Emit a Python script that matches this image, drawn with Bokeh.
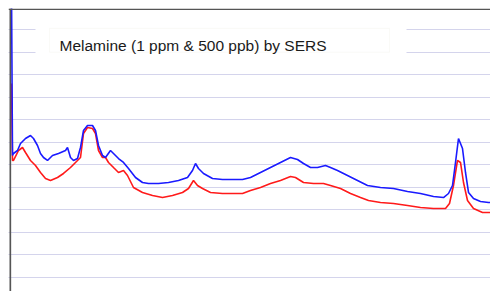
from bokeh.plotting import figure
from bokeh.models import Range1d, Grid, FixedTicker, BoxAnnotation, Label
from bokeh.embed import file_html
from bokeh.resources import INLINE

# Raman shift (cm^-1) and intensity (counts) for melamine 1 ppm (blue)
shift_1ppm = [306, 309, 312, 324, 333, 348, 363, 372, 384, 393, 402, 414, 429, 447, 468, 474,
              483, 492, 504, 513, 522, 534, 549, 558, 567, 579, 588, 603, 612, 627, 642, 657,
              678, 699, 717, 747, 777, 807, 834, 849, 858, 867, 882, 909, 939, 969, 999, 1023,
              1053, 1083, 1113, 1143, 1164, 1182, 1203, 1224, 1248, 1263, 1284, 1314, 1344, 1374,
              1413, 1452, 1494, 1533, 1572, 1602, 1617, 1629, 1638, 1647, 1659, 1668, 1677, 1692,
              1713, 1737, 1743]
int_1ppm = [12800, 5411, 5500, 5633, 5944, 6167, 6300, 6167, 5855, 5500, 5322, 5189, 5411, 5500,
            5633, 5766, 5322, 5189, 5277, 5766, 6522, 6745, 6745, 6522, 5855, 5411, 5322, 5633,
            5500, 5277, 5100, 4833, 4433, 4210, 4166, 4166, 4210, 4299, 4433, 4744, 5055, 4833,
            4611, 4388, 4344, 4344, 4344, 4433, 4655, 4877, 5100, 5322, 5233, 5055, 4877, 4877,
            4966, 4877, 4744, 4522, 4299, 4077, 3988, 3944, 3810, 3721, 3588, 3543, 3721, 4077,
            5100, 6167, 5722, 4655, 3766, 3499, 3366, 3321, 3321]

# Melamine 500 ppb (red)
shift_500ppb = [306, 309, 312, 327, 339, 348, 363, 378, 393, 408, 423, 444, 462, 483, 498, 513,
                522, 534, 549, 558, 567, 579, 588, 597, 612, 627, 642, 654, 672, 699, 729, 759,
                789, 819, 837, 852, 864, 879, 903, 939, 969, 999, 1023, 1053, 1083, 1113, 1143,
                1158, 1182, 1212, 1242, 1263, 1293, 1323, 1353, 1377, 1413, 1452, 1494, 1533,
                1572, 1608, 1620, 1632, 1644, 1653, 1662, 1674, 1692, 1719, 1737, 1743]
int_500ppb = [8612, 5189, 5189, 5633, 5766, 5544, 5189, 4966, 4655, 4388, 4299, 4433, 4611, 4877,
              5100, 5322, 6389, 6656, 6611, 6389, 5633, 5322, 5322, 5100, 4877, 4655, 4744, 4522,
              3988, 3766, 3632, 3543, 3632, 3766, 3944, 4299, 4077, 3944, 3766, 3721, 3721, 3721,
              3855, 3988, 4166, 4299, 4477, 4433, 4210, 4166, 4166, 4077, 3944, 3721, 3543, 3410,
              3321, 3277, 3188, 3099, 3054, 3054, 3277, 4077, 5189, 5100, 4210, 3410, 3054, 2877,
              2877, 2877]

grid_ticks = [0, 1000, 2000, 3000, 4000, 5000, 6000, 7000, 8000, 9000, 10000, 11000]
title_text = "Melamine (1 ppm & 500 ppb) by SERS"

X0, X1 = 297, 1743
Y0, Y1 = -636, 11946

p = figure(width=490, height=291, output_backend="svg", toolbar_location=None,
           x_axis_type=None, y_axis_type=None,
           x_range=Range1d(X0, X1), y_range=Range1d(Y0, Y1),
           min_border=0, min_border_left=8, min_border_right=0,
           min_border_top=8, min_border_bottom=0)
p.outline_line_color = None
p.background_fill_color = "white"
p.border_fill_color = "white"

grid = Grid(dimension=1, ticker=FixedTicker(ticks=grid_ticks),
            grid_line_color="#a8a8d8", grid_line_dash="1 1", grid_line_width=1)
p.add_layout(grid)

p.line(shift_500ppb, int_500ppb, line_color="#ff1a1a", line_width=1.6)
p.line(shift_1ppm, int_1ppm, line_color="#1a1aff", line_width=1.6)

# frame borders (left and top)
p.add_layout(BoxAnnotation(left=X0 + 3, right=X0 + 8, fill_color="#555555",
                           fill_alpha=1.0, line_color=None))
p.add_layout(BoxAnnotation(top=Y1, bottom=Y1 - 70, fill_color="#555555",
                           fill_alpha=1.0, line_color=None))

# title box
p.add_layout(BoxAnnotation(left=378, right=1491, bottom=9768, top=11324,
                           fill_color="white", fill_alpha=1.0, line_color=None))
p.add_layout(BoxAnnotation(left=420, right=1440, bottom=10000, top=11060,
                           fill_color="white", fill_alpha=1.0, line_color="#eeeee6", line_width=1))
p.add_layout(Label(x=450, y=10301, text=title_text, text_font="Liberation Sans",
                   text_font_size="15.5px", text_baseline="alphabetic", text_color="#1a1a1a"))

open("out.html", "w").write(file_html(p, INLINE))
